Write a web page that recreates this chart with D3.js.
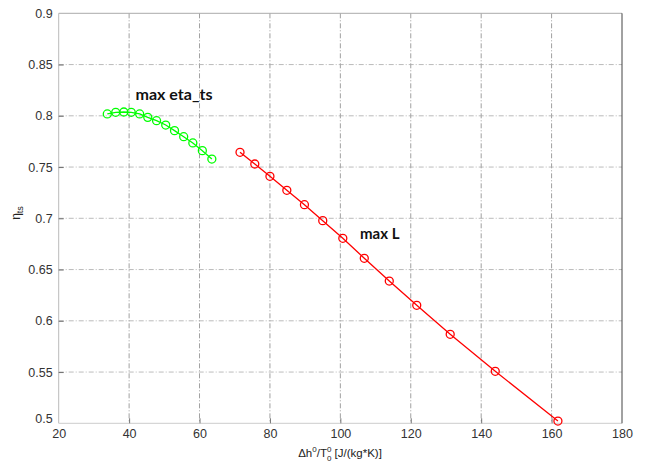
<!DOCTYPE html>
<html><head><meta charset="utf-8">
<script src="https://cdn.jsdelivr.net/npm/d3@7"></script>
<style>body{margin:0;background:#fff}svg{display:block}</style>
</head><body>
<script>
const xTicks = [20,40,60,80,100,120,140,160,180];
const yTicks = [0.5,0.55,0.6,0.65,0.7,0.75,0.8,0.85,0.9];
const greenX = [33.8,36.2,38.5,40.6,43.0,45.3,47.8,50.4,52.9,55.5,58.1,60.8,63.5];
const greenY = [0.8018,0.8034,0.8037,0.8034,0.8018,0.7985,0.7952,0.7910,0.7855,0.7796,0.7735,0.7660,0.7578];
const redX = [71.5,75.7,80.0,84.8,89.8,95.0,100.7,106.8,113.9,121.7,131.2,144.0,161.8];
const redY = [0.7644,0.7530,0.7410,0.7273,0.7133,0.6977,0.6805,0.6610,0.6388,0.6151,0.5868,0.5507,0.5022];

const W=646,H=462, L=58.7, R=622, T=13.3, B=423.3;
const svg=d3.select("body").append("svg").attr("width",W).attr("height",H);
const x=d3.scaleLinear().domain([20,180]).range([L,R]);
const y=d3.scaleLinear().domain([0.5,0.9]).range([B,T]);
const font="Liberation Sans, Arial, sans-serif";

// grid
const g=svg.append("g");
g.selectAll(".vg").data(xTicks.slice(1,-1)).join("line")
 .attr("x1",d=>x(d)).attr("x2",d=>x(d)).attr("y1",T).attr("y2",B)
 .attr("stroke","#888").attr("stroke-width",0.8).attr("stroke-dasharray","5,2,1,2");
g.selectAll(".hg").data(yTicks.slice(1,-1)).join("line")
 .attr("y1",d=>y(d)).attr("y2",d=>y(d)).attr("x1",L).attr("x2",R)
 .attr("stroke","#aaa").attr("stroke-width",0.8).attr("stroke-dasharray","5,2,1,2");

// box
svg.append("line").attr("x1",L).attr("x2",R).attr("y1",T).attr("y2",T).attr("stroke","#aaa");
svg.append("line").attr("x1",L).attr("x2",L).attr("y1",T).attr("y2",B).attr("stroke","#bbb");
svg.append("line").attr("x1",L).attr("x2",R).attr("y1",B).attr("y2",B).attr("stroke","#ccc");
svg.append("line").attr("x1",R).attr("x2",R).attr("y1",T).attr("y2",B).attr("stroke","#444");

// axes
const xa=svg.append("g").attr("transform",`translate(0,${B})`)
 .call(d3.axisBottom(x).tickValues(xTicks).tickSize(-5).tickPadding(6).tickFormat(d3.format("d")));
const ya=svg.append("g").attr("transform",`translate(${L},0)`)
 .call(d3.axisLeft(y).tickValues(yTicks).tickSize(-5).tickPadding(6).tickFormat(d=>String(+d.toFixed(2))));
[xa,ya].forEach(a=>{a.select(".domain").remove();
 a.selectAll(".tick line").attr("stroke","#555").attr("stroke-width",0.8);
 a.selectAll("text").attr("font-family",font).attr("font-size",12.5).attr("fill","#333");});
xa.selectAll(".tick").filter(d=>d===20||d===180).select("line").remove();
ya.selectAll(".tick").filter(d=>d===0.5||d===0.9).select("line").remove();
ya.selectAll(".tick").filter(d=>d===0.5).select("text").attr("dy","-0.05em");

// series
function series(xs,ys,col){
 const pts=xs.map((v,i)=>[v,ys[i]]);
 svg.append("path").datum(pts).attr("fill","none").attr("stroke",col).attr("stroke-width",1.3)
  .attr("d",d3.line().x(d=>x(d[0])).y(d=>y(d[1])));
 svg.selectAll(null).data(pts).join("circle").attr("cx",d=>x(d[0])).attr("cy",d=>y(d[1]))
  .attr("r",4).attr("fill","none").attr("stroke",col).attr("stroke-width",1.3);
}
series(greenX,greenY,"#00ff00");
series(redX,redY,"#ff0000");

// annotations
const lab="Lato, 'Open Sans', sans-serif";
svg.append("text").attr("x",135.5).attr("y",100).attr("font-family",lab).attr("font-weight","bold")
 .attr("font-size",15).attr("textLength",77).attr("lengthAdjust","spacingAndGlyphs")
 .attr("fill","#111").text("max eta_ts");
svg.append("text").attr("x",360).attr("y",239).attr("font-family",lab).attr("font-weight","bold")
 .attr("font-size",15).attr("fill","#111").text("max L");

// x title
const xt=svg.append("text").attr("x",340).attr("y",457).attr("text-anchor","middle")
 .attr("font-family",font).attr("font-size",11.5).attr("fill","#222");
xt.append("tspan").text("\u0394h");
xt.append("tspan").attr("font-size",8).attr("dy",-5).text("0");
xt.append("tspan").attr("dy",5).text("/T");
xt.append("tspan").attr("font-size",8).attr("dy",-5).text("0");
xt.append("tspan").attr("font-size",8).attr("dx",-4.5).attr("dy",9).text("0");
xt.append("tspan").attr("dy",-4).text(" [J/(kg*K)]");

// y title
const yt=svg.append("text").attr("transform","translate(20,213) rotate(-90)").attr("text-anchor","middle")
 .attr("font-family",font).attr("font-size",12).attr("fill","#222");
yt.append("tspan").text("\u03b7");
yt.append("tspan").attr("font-size",9).attr("dy",3).text("ts");
</script>
</body></html>
